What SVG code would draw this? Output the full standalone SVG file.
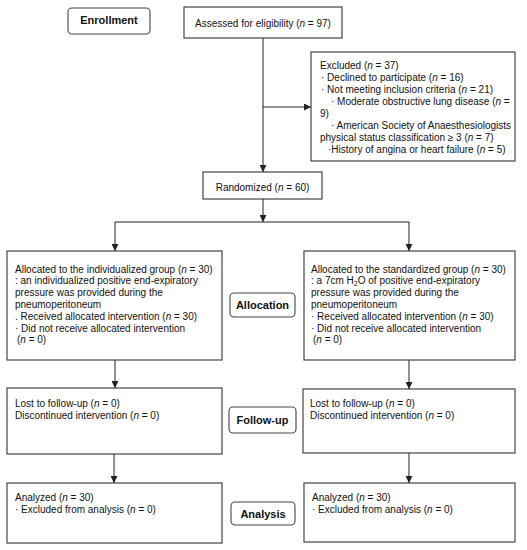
<svg xmlns="http://www.w3.org/2000/svg" width="527" height="550" viewBox="0 0 527 550">
<defs>
<marker id="ah" markerUnits="userSpaceOnUse" markerWidth="7" markerHeight="7" refX="7" refY="3.5" orient="auto">
<path d="M0,0 L7,3.5 L0,7 Z" fill="#222"/>
</marker>
<style>
.box{fill:#fff;stroke:#333;stroke-width:1.1}
.lbl{fill:#fff;stroke:#444;stroke-width:1.1}
.t{font-family:"Liberation Sans",Arial,sans-serif;font-size:10px;fill:#111}
.h{font-family:"Liberation Sans",Arial,sans-serif;font-size:11px;font-weight:bold;fill:#111;text-anchor:middle}
.c{text-anchor:middle}
.ln{stroke:#222;stroke-width:1;fill:none}
</style>
</defs>
<rect width="527" height="550" fill="#fff"/>
<g id="connectors">
<line class="ln" x1="263" y1="38" x2="263" y2="172" marker-end="url(#ah)"/>
<line class="ln" x1="263" y1="107" x2="311" y2="107" marker-end="url(#ah)"/>
<line class="ln" x1="263" y1="199" x2="263" y2="222" marker-end="url(#ah)"/>
<line class="ln" x1="115" y1="222" x2="409" y2="222"/>
<line class="ln" x1="115" y1="222" x2="115" y2="251" marker-end="url(#ah)"/>
<line class="ln" x1="409" y1="222" x2="409" y2="251" marker-end="url(#ah)"/>
<line class="ln" x1="115" y1="360" x2="115" y2="388" marker-end="url(#ah)"/>
<line class="ln" x1="409" y1="360" x2="409" y2="389" marker-end="url(#ah)"/>
<line class="ln" x1="114" y1="454" x2="114" y2="483" marker-end="url(#ah)"/>
<line class="ln" x1="409" y1="453" x2="409" y2="483" marker-end="url(#ah)"/>
</g>
<g id="enrollment">
<rect class="lbl" x="68" y="8" width="82" height="26" rx="4"/>
<text class="h" x="109" y="24">Enrollment</text>
</g>
<g id="assessed">
<rect class="box" x="184" y="7" width="158" height="31"/>
<text class="t c" x="263" y="26.5">Assessed for eligibility (<tspan font-style="italic">n</tspan> = 97)</text>
</g>
<g id="excluded">
<rect class="box" x="311" y="52" width="204" height="109"/>
<text class="t" x="320" y="68.5">Excluded (<tspan font-style="italic">n</tspan> = 37)</text>
<text class="t" x="321" y="80.5">· Declined to participate (<tspan font-style="italic">n</tspan> = 16)</text>
<text class="t" x="321" y="92.5">· Not meeting inclusion criteria (<tspan font-style="italic">n</tspan> = 21)</text>
<text class="t" x="331" y="104.5">· Moderate obstructive lung disease (<tspan font-style="italic">n</tspan> =</text>
<text class="t" x="320" y="116.5">9)</text>
<text class="t" x="331" y="128.5">· American Society of Anaesthesiologists</text>
<text class="t" x="320" y="140.5">physical status classification ≥ 3 (<tspan font-style="italic">n</tspan> = 7)</text>
<text class="t" x="328" y="152.5">·History of angina or heart failure (<tspan font-style="italic">n</tspan> = 5)</text>
</g>
<g id="randomized">
<rect class="box" x="203" y="172" width="119" height="27"/>
<text class="t c" x="262.5" y="190.5">Randomized (<tspan font-style="italic">n</tspan> = 60)</text>
</g>
<g id="alloc-left">
<rect class="box" x="7" y="251" width="215" height="109"/>
<text class="t" x="15" y="272.5">Allocated to the individualized group (<tspan font-style="italic">n</tspan> = 30)</text>
<text class="t" x="15" y="284.3">: an individualized positive end-expiratory</text>
<text class="t" x="15" y="296.1">pressure was provided during the</text>
<text class="t" x="15" y="307.9">pneumoperitoneum</text>
<text class="t" x="15" y="319.7">. Received allocated intervention (<tspan font-style="italic">n</tspan> = 30)</text>
<text class="t" x="15" y="331.5">· Did not receive allocated intervention</text>
<text class="t" x="17" y="343.3">(<tspan font-style="italic">n</tspan> = 0)</text>
</g>
<g id="allocation">
<rect class="lbl" x="230" y="293" width="65" height="24" rx="4"/>
<text class="h" x="262.5" y="309">Allocation</text>
</g>
<g id="alloc-right">
<rect class="box" x="304" y="251" width="211" height="109"/>
<text class="t" x="311" y="272.5">Allocated to the standardized group (<tspan font-style="italic">n</tspan> = 30)</text>
<text class="t" x="311" y="284.3">: a 7cm H<tspan font-size="7" dy="2">2</tspan><tspan dy="-2">O of positive end-expiratory</tspan></text>
<text class="t" x="311" y="296.1">pressure was provided during the</text>
<text class="t" x="311" y="307.9">pneumoperitoneum</text>
<text class="t" x="311" y="319.7">· Received allocated intervention (<tspan font-style="italic">n</tspan> = 30)</text>
<text class="t" x="311" y="331.5">· Did not receive allocated intervention</text>
<text class="t" x="313" y="343.3">(<tspan font-style="italic">n</tspan> = 0)</text>
</g>
<g id="followup-left">
<rect class="box" x="7" y="388" width="215" height="66"/>
<text class="t" x="15" y="406.5">Lost to follow-up (<tspan font-style="italic">n</tspan> = 0)</text>
<text class="t" x="15" y="418.5">Discontinued intervention (<tspan font-style="italic">n</tspan> = 0)</text>
</g>
<g id="followup">
<rect class="lbl" x="229" y="407" width="67" height="26" rx="4"/>
<text class="h" x="262.5" y="424">Follow-up</text>
</g>
<g id="followup-right">
<rect class="box" x="303" y="389" width="212" height="64"/>
<text class="t" x="310" y="406.5">Lost to follow-up (<tspan font-style="italic">n</tspan> = 0)</text>
<text class="t" x="310" y="418.5">Discontinued intervention (<tspan font-style="italic">n</tspan> = 0)</text>
</g>
<g id="analysis-left">
<rect class="box" x="7" y="483" width="215" height="60"/>
<text class="t" x="15" y="500.5">Analyzed (<tspan font-style="italic">n</tspan> = 30)</text>
<text class="t" x="15" y="512.5">· Excluded from analysis (<tspan font-style="italic">n</tspan> = 0)</text>
</g>
<g id="analysis">
<rect class="lbl" x="231" y="502" width="64" height="23" rx="4"/>
<text class="h" x="263" y="518">Analysis</text>
</g>
<g id="analysis-right">
<rect class="box" x="304" y="483" width="211" height="59"/>
<text class="t" x="312" y="500.5">Analyzed (<tspan font-style="italic">n</tspan> = 30)</text>
<text class="t" x="312" y="512.5">· Excluded from analysis (<tspan font-style="italic">n</tspan> = 0)</text>
</g>
</svg>
